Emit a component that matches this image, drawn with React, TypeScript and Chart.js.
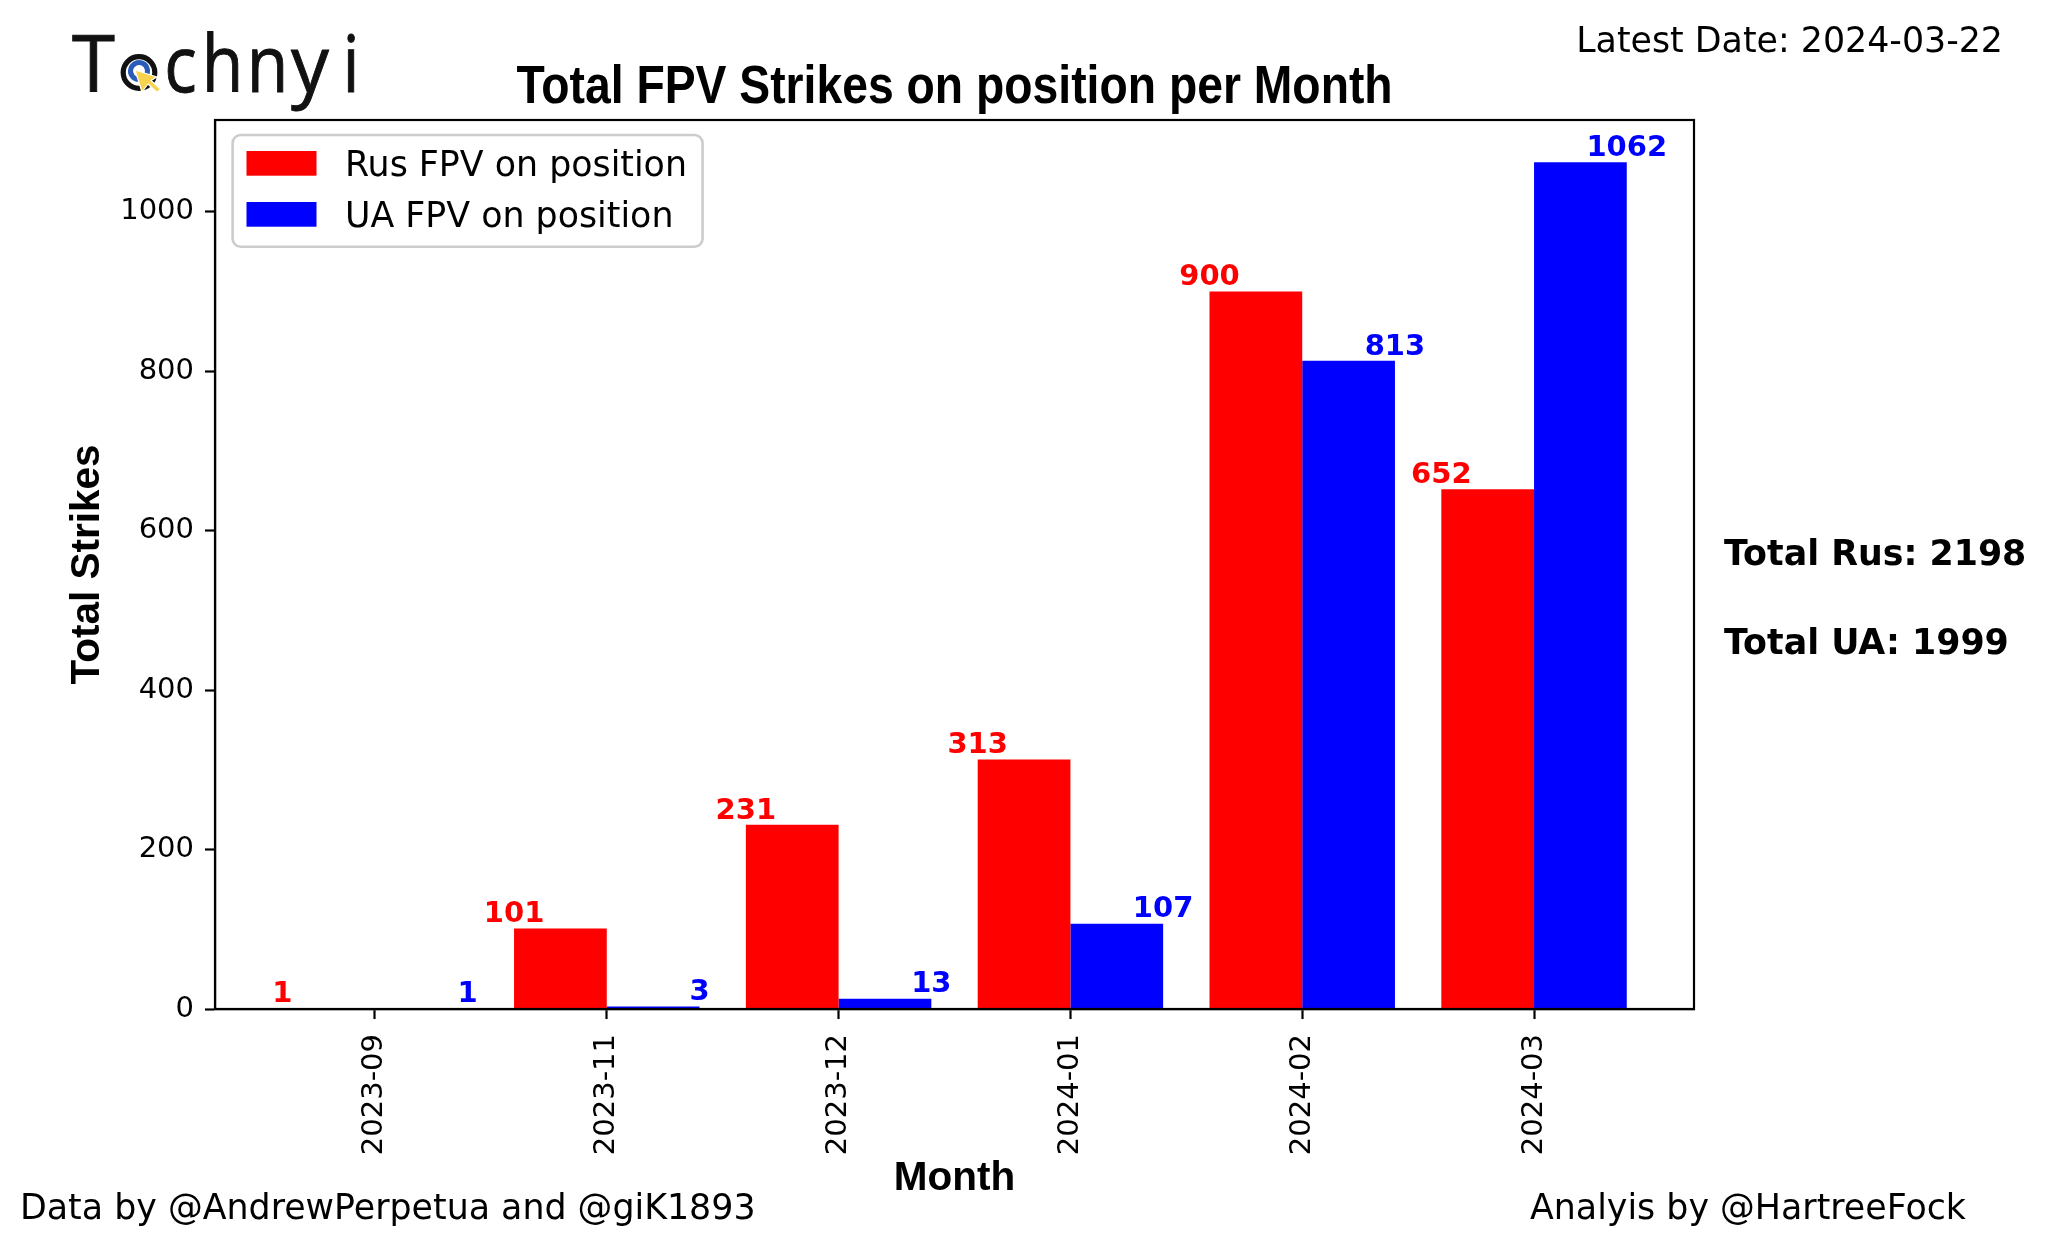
import React, { useEffect, useRef } from 'react';
import { Chart, registerables } from 'chart.js';

Chart.register(...registerables);

// ---------------- data ----------------
const MONTHS = ['2023-09', '2023-11', '2023-12', '2024-01', '2024-02', '2024-03'];
const RUS_STRIKES = [1, 101, 231, 313, 900, 652];
const UA_STRIKES = [1, 3, 13, 107, 813, 1062];
const Y_TICKS = [0, 200, 400, 600, 800, 1000];
const SERIES_LABELS = ['Rus FPV on position', 'UA FPV on position'];
const SERIES_COLORS = ['#ff0000', '#0000ff'];
const TITLE = 'Total FPV Strikes on position per Month';
const X_TITLE = 'Month';
const Y_TITLE = 'Total Strikes';
const LATEST_DATE = 'Latest Date: 2024-03-22';
const DATA_CREDIT = 'Data by @AndrewPerpetua and @giK1893';
const ANALYSIS_CREDIT = 'Analyis by @HartreeFock';
const LOGO_FIRST = 'T';
const LOGO_REST = ['c', 'h', 'n', 'y', 'i'];

const W = 2048;
const H = 1247;
const DEJAVU = "'DejaVu Sans', Verdana, sans-serif";
const ARIAL = "'Liberation Sans', Arial, Helvetica, sans-serif";
const TEXT_12 = 34.8;
const TEXT_10 = 29;

const sum = (arr: number[]) => arr.reduce((a, b) => a + b, 0);

export default function App() {
  const canvasRef = useRef<HTMLCanvasElement | null>(null);

  useEffect(() => {
    const canvas = canvasRef.current;
    if (!canvas) return;

    const values = [RUS_STRIKES, UA_STRIKES];

    const decor = {
      id: 'decor',
      afterDatasetsDraw(chart: any) {
        const ctx = chart.ctx as CanvasRenderingContext2D;
        const ca = chart.chartArea;

        // value labels at the outer bar edges
        chart.data.datasets.forEach((ds: any, di: number) => {
          const meta = chart.getDatasetMeta(di);
          ctx.save();
          ctx.font = `bold ${TEXT_10}px ${DEJAVU}`;
          ctx.fillStyle = ds.backgroundColor;
          ctx.textAlign = 'center';
          ctx.textBaseline = 'alphabetic';
          meta.data.forEach((el: any, i: number) => {
            const p = el.getProps(['x', 'y', 'width'], true);
            const lx = di === 0 ? p.x - p.width / 2 : p.x + p.width / 2;
            ctx.fillText(String(values[di][i]), lx, p.y - 6.3);
          });
          ctx.restore();
        });

        // frame (spines)
        ctx.save();
        ctx.strokeStyle = '#000';
        ctx.lineWidth = 2.2;
        ctx.strokeRect(ca.left, ca.top, ca.right - ca.left, ca.bottom - ca.top);
        ctx.restore();

        // legend
        ctx.save();
        ctx.font = `${TEXT_12}px ${DEJAVU}`;
        const textX = ca.left + 130;
        let maxW = 0;
        chart.data.datasets.forEach((ds: any) => {
          maxW = Math.max(maxW, ctx.measureText(ds.label).width);
        });
        const fx = ca.left + 17.6;
        const fy = ca.top + 15;
        const fw = textX + maxW + 15.6 - fx;
        const fh = 111.7;
        const r = 8;
        ctx.beginPath();
        ctx.moveTo(fx + r, fy);
        ctx.lineTo(fx + fw - r, fy);
        ctx.arcTo(fx + fw, fy, fx + fw, fy + r, r);
        ctx.lineTo(fx + fw, fy + fh - r);
        ctx.arcTo(fx + fw, fy + fh, fx + fw - r, fy + fh, r);
        ctx.lineTo(fx + r, fy + fh);
        ctx.arcTo(fx, fy + fh, fx, fy + fh - r, r);
        ctx.lineTo(fx, fy + r);
        ctx.arcTo(fx, fy, fx + r, fy, r);
        ctx.closePath();
        ctx.fillStyle = 'rgba(255,255,255,0.8)';
        ctx.fill();
        ctx.strokeStyle = '#cccccc';
        ctx.lineWidth = 2.6;
        ctx.stroke();
        chart.data.datasets.forEach((ds: any, di: number) => {
          const rowTop = ca.top + 31 + di * 51;
          ctx.fillStyle = ds.backgroundColor;
          ctx.fillRect(ca.left + 31.5, rowTop, 70, 24.7);
          ctx.fillStyle = '#000';
          ctx.textAlign = 'left';
          ctx.textBaseline = 'alphabetic';
          ctx.fillText(ds.label, textX, rowTop + 24.7);
        });
        ctx.restore();
      },
      afterDraw(chart: any) {
        // chart title, centred over the plot area (condensed-looking bold face)
        const ctx = chart.ctx as CanvasRenderingContext2D;
        const ca = chart.chartArea;
        ctx.save();
        ctx.font = `bold 46.3px ${ARIAL}`;
        ctx.fillStyle = '#000';
        ctx.textAlign = 'center';
        ctx.textBaseline = 'alphabetic';
        ctx.translate((ca.left + ca.right) / 2, ca.top - 16.7);
        ctx.scale(1, 1.16);
        ctx.fillText(TITLE, 0, 0);
        ctx.restore();
      },
    };

    const tickFont = { family: DEJAVU, size: TEXT_10 };
    const axisTitleFont = { family: ARIAL, size: 40.5, weight: 'bold' as const };
    const gridOpts = {
      display: true,
      drawOnChartArea: false,
      drawTicks: true,
      tickLength: 10,
      tickWidth: 2.2,
      tickColor: '#000',
      color: '#000',
      offset: false,
    };

    const chart = new Chart(canvas, {
      type: 'bar',
      data: {
        datasets: SERIES_LABELS.map((label, di) => ({
          label,
          data: values[di].map((v, i) => ({ x: i, y: v })),
          backgroundColor: SERIES_COLORS[di],
          borderWidth: 0,
          categoryPercentage: 0.8,
          barPercentage: 1.0,
        })),
      },
      options: {
        animation: false,
        responsive: false,
        devicePixelRatio: 1,
        layout: { padding: { left: 0, right: 354, top: 120, bottom: 0 } },
        plugins: {
          legend: { display: false },
          tooltip: { enabled: false },
          title: { display: false },
        },
        scales: {
          x: {
            type: 'linear',
            min: -0.69,
            max: 5.69,
            offset: false,
            afterBuildTicks: (s: any) => {
              s.ticks = MONTHS.map((_, i) => ({ value: i }));
            },
            afterFit: (s: any) => {
              s.height = 238;
            },
            ticks: {
              autoSkip: false,
              minRotation: 90,
              maxRotation: 90,
              padding: 15,
              color: '#000',
              font: tickFont,
              callback: (v: any) => MONTHS[Math.round(Number(v))] ?? '',
            },
            grid: gridOpts,
            border: { display: true, color: '#000', width: 2.2 },
            title: {
              display: true,
              text: X_TITLE,
              color: '#000',
              font: axisTitleFont,
              padding: { top: 0, bottom: 44 },
            },
          },
          y: {
            type: 'linear',
            min: 0,
            max: 1115.1,
            afterBuildTicks: (s: any) => {
              s.ticks = Y_TICKS.map((v) => ({ value: v }));
            },
            afterFit: (s: any) => {
              s.width = 215;
            },
            ticks: {
              padding: 11,
              color: '#000',
              font: tickFont,
              callback: (v: any) => String(v),
            },
            grid: gridOpts,
            border: { display: true, color: '#000', width: 2.2 },
            title: {
              display: true,
              text: Y_TITLE,
              color: '#000',
              font: axisTitleFont,
              padding: { top: 63.7, bottom: 0 },
            },
          },
        },
      } as any,
      plugins: [decor],
    });

    return () => {
      chart.destroy();
    };
  }, []);

  const logoFont = "'Open Sans', 'Noto Sans', sans-serif";
  const restX = [164.3, 201.8, 246.8, 291, 342.4];
  const restScale = [0.87, 0.87, 0.87, 0.97, 0.87];

  return (
    <div style={{ position: 'absolute', left: 0, top: 0, width: W, height: H, background: '#fff', overflow: 'hidden' }}>
      <canvas ref={canvasRef} width={W} height={H} style={{ display: 'block', width: W, height: H }} />
      <svg
        width={W}
        height={H}
        viewBox={`0 0 ${W} ${H}`}
        style={{ position: 'absolute', left: 0, top: 0, pointerEvents: 'none' }}
      >
        {/* logo */}
        <text x={72} y={92} fontFamily={logoFont} fontSize={78} fill="#111" stroke="#111" strokeWidth={0.9}>
          {LOGO_FIRST}
        </text>
        {LOGO_REST.map((ch, i) => (
          <text
            key={ch + i}
            transform={`translate(${restX[i]} 92) scale(${restScale[i]} 1)`}
            x={0}
            y={0}
            fontFamily={logoFont}
            fontSize={78}
            fill="#111"
            stroke="#111"
            strokeWidth={0.9}
          >
            {ch}
          </text>
        ))}
        <circle cx={139} cy={72.5} r={15.8} fill="none" stroke="#111" strokeWidth={5.2} />
        <path
          d="M 145.5 76.5 A 8.5 8.5 0 1 0 139.5 79.5"
          fill="none"
          stroke="#2a5db8"
          strokeWidth={5}
        />
        <polygon
          points="135,70 157,77 151,80.5 160.5,89 157,92.5 148,84 142,92"
          fill="#f7d44c"
          stroke="#fff"
          strokeWidth={1.2}
          strokeLinejoin="round"
        />

        <text x={2003} y={52} textAnchor="end" fontFamily={DEJAVU} fontSize={TEXT_12} fill="#000">
          {LATEST_DATE}
        </text>
        <text x={1724} y={565} fontFamily={DEJAVU} fontSize={TEXT_12} fontWeight="bold" fill="#000">
          {`Total Rus: ${sum(RUS_STRIKES)}`}
        </text>
        <text x={1724} y={654} fontFamily={DEJAVU} fontSize={TEXT_12} fontWeight="bold" fill="#000">
          {`Total UA: ${sum(UA_STRIKES)}`}
        </text>
        <text x={20} y={1219} fontFamily={DEJAVU} fontSize={TEXT_12} fill="#000">
          {DATA_CREDIT}
        </text>
        <text x={1530} y={1219} fontFamily={DEJAVU} fontSize={TEXT_12} fill="#000">
          {ANALYSIS_CREDIT}
        </text>
      </svg>
    </div>
  );
}
